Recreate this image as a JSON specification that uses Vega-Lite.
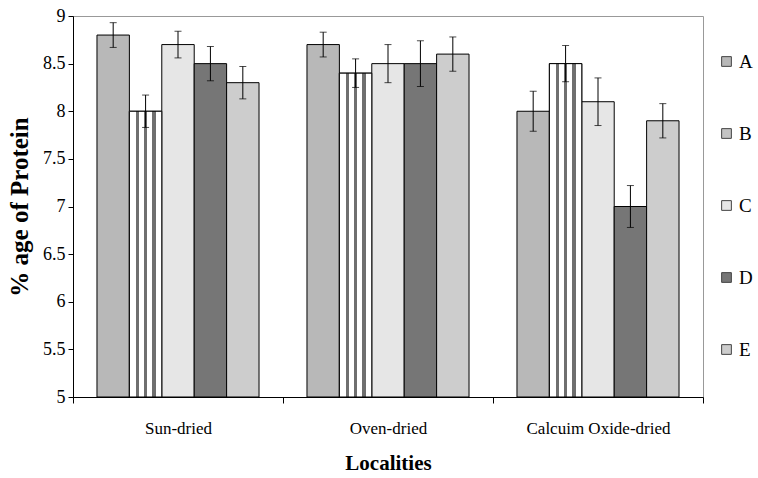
{
  "$schema": "https://vega.github.io/schema/vega-lite/v6.json",
  "width": 630,
  "height": 381,
  "autosize": {"type": "none"},
  "padding": {"left": 73, "top": 16, "right": 55, "bottom": 81},
  "background": "white",
  "config": {
    "font": "Times New Roman",
    "view": {"stroke": "#999999", "strokeWidth": 1},
    "axis": {"labelFont": "Times New Roman", "titleFont": "Times New Roman"},
    "legend": {"labelFont": "Times New Roman"}
  },
  "data": {
    "values": [
      {"loc": "Sun-dried", "series": "A", "value": 8.8, "lo": 8.67, "hi": 8.93},
      {"loc": "Sun-dried", "series": "B", "value": 8.0, "lo": 7.83, "hi": 8.17},
      {"loc": "Sun-dried", "series": "C", "value": 8.7, "lo": 8.56, "hi": 8.84},
      {"loc": "Sun-dried", "series": "D", "value": 8.5, "lo": 8.32, "hi": 8.68},
      {"loc": "Sun-dried", "series": "E", "value": 8.3, "lo": 8.13, "hi": 8.47},
      {"loc": "Oven-dried", "series": "A", "value": 8.7, "lo": 8.57, "hi": 8.83},
      {"loc": "Oven-dried", "series": "B", "value": 8.4, "lo": 8.25, "hi": 8.55},
      {"loc": "Oven-dried", "series": "C", "value": 8.5, "lo": 8.3, "hi": 8.7},
      {"loc": "Oven-dried", "series": "D", "value": 8.5, "lo": 8.26, "hi": 8.74},
      {"loc": "Oven-dried", "series": "E", "value": 8.6, "lo": 8.42, "hi": 8.78},
      {"loc": "Calcuim Oxide-dried", "series": "A", "value": 8.0, "lo": 7.79, "hi": 8.21},
      {"loc": "Calcuim Oxide-dried", "series": "B", "value": 8.5, "lo": 8.31, "hi": 8.69},
      {"loc": "Calcuim Oxide-dried", "series": "C", "value": 8.1, "lo": 7.85, "hi": 8.35},
      {"loc": "Calcuim Oxide-dried", "series": "D", "value": 7.0, "lo": 6.78, "hi": 7.22},
      {"loc": "Calcuim Oxide-dried", "series": "E", "value": 7.9, "lo": 7.72, "hi": 8.08}
    ]
  },
  "encoding": {
    "x": {
      "field": "loc",
      "type": "nominal",
      "sort": null,
      "scale": {"paddingInner": 0, "paddingOuter": 0},
      "axis": {
        "title": "Localities",
        "titleFont": "Times New Roman",
        "titleFontSize": 21,
        "titleFontWeight": "bold",
        "titleColor": "black",
        "titlePadding": 16,
        "labelAngle": 0,
        "labelFont": "Times New Roman",
        "labelFontSize": 17,
        "labelColor": "black",
        "labelPadding": 17,
        "tickBand": "extent",
        "tickSize": 6,
        "tickColor": "black",
        "domainColor": "black",
        "domainWidth": 1,
        "zindex": 1
      }
    },
    "xOffset": {"field": "series", "type": "nominal", "scale": {"paddingInner": 0, "paddingOuter": 0.74}}
  },
  "layer": [
    {
      "mark": {"type": "bar", "stroke": "black", "strokeWidth": 1},
      "encoding": {
        "y": {
          "field": "value",
          "type": "quantitative",
          "scale": {"domain": [5, 9], "zero": false, "nice": false},
          "axis": {
            "title": "% age of Protein",
            "titleFont": "Times New Roman",
            "titleFontSize": 25,
            "titleFontWeight": "bold",
            "titleColor": "black",
            "titlePadding": 10,
            "values": [5, 5.5, 6, 6.5, 7, 7.5, 8, 8.5, 9],
            "format": "~g",
            "labelFont": "Times New Roman",
            "labelFontSize": 18,
            "labelColor": "black",
            "labelPadding": 3,
            "tickSize": 5,
            "tickColor": "black",
            "domainColor": "black",
            "grid": false,
            "zindex": 1
          }
        },
        "y2": {"datum": 5},
        "fill": {
          "field": "series",
          "type": "nominal",
          "scale": {"domain": ["A", "B", "C", "D", "E"], "range": ["#b8b8b8", "#c4c4c4", "#e6e6e6", "#767676", "#cdcdcd"]},
          "legend": {
            "title": null,
            "orient": "none",
            "legendX": 644,
            "legendY": 36,
            "symbolType": "square",
            "symbolSize": 95,
            "symbolStrokeColor": "#444444",
            "symbolStrokeWidth": 1,
            "labelFontSize": 19,
            "labelColor": "black",
            "labelFont": "Times New Roman",
            "labelOffset": 3,
            "rowPadding": 52
          }
        }
      }
    },
    {
      "transform": [{"filter": "datum.series == 'B'"}],
      "mark": {
        "type": "bar",
        "stroke": "black",
        "strokeWidth": 1,
        "fill": {
          "gradient": "linear",
          "x1": 0, "y1": 0, "x2": 1, "y2": 0,
          "stops": [
            {"offset": 0, "color": "white"},
            {"offset": 0.19, "color": "white"},
            {"offset": 0.19, "color": "#6f6f6f"},
            {"offset": 0.29, "color": "#6f6f6f"},
            {"offset": 0.29, "color": "white"},
            {"offset": 0.45, "color": "white"},
            {"offset": 0.45, "color": "#6f6f6f"},
            {"offset": 0.55, "color": "#6f6f6f"},
            {"offset": 0.55, "color": "white"},
            {"offset": 0.71, "color": "white"},
            {"offset": 0.71, "color": "#6f6f6f"},
            {"offset": 0.81, "color": "#6f6f6f"},
            {"offset": 0.81, "color": "white"},
            {"offset": 1, "color": "white"}
          ]
        }
      },
      "encoding": {
        "y": {"field": "value", "type": "quantitative"},
        "y2": {"datum": 5}
      }
    },
    {
      "mark": {"type": "rule", "color": "black", "strokeWidth": 1},
      "encoding": {
        "y": {"field": "lo", "type": "quantitative"},
        "y2": {"field": "hi"}
      }
    },
    {
      "mark": {"type": "tick", "color": "black", "size": 7, "thickness": 1},
      "encoding": {"y": {"field": "lo", "type": "quantitative"}}
    },
    {
      "mark": {"type": "tick", "color": "black", "size": 7, "thickness": 1},
      "encoding": {"y": {"field": "hi", "type": "quantitative"}}
    }
  ]
}
